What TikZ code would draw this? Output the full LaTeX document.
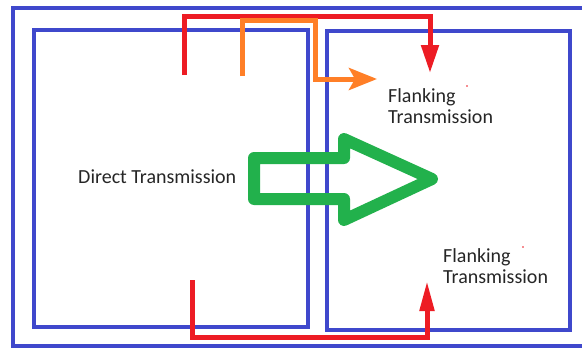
\documentclass[tikz,border=0pt]{standalone}
\usepackage{fontspec}
\setmainfont{Carlito}
\usetikzlibrary{positioning,arrows.meta}
\definecolor{wallblue}{HTML}{3F48CC}
\definecolor{pathred}{HTML}{ED1C24}
\definecolor{pathorange}{HTML}{FF7F27}
\definecolor{arrowgreen}{HTML}{22B14C}

\begin{document}
\begin{tikzpicture}[x=1pt,y=-1pt,
  wall/.style={draw=wallblue,line width=4pt},
  redpath/.style={draw=pathred,line width=5pt},
  orangepath/.style={draw=pathorange,line width=5pt},
  label/.style={font=\fontsize{20}{21.5}\selectfont,text=black!85,inner sep=0pt,align=left}]
  \useasboundingbox (0,0) rectangle (582,348);
  \fill[white] (0,0) rectangle (582,348);
  % building outline and the two rooms
  \begin{scope}
    \clip (0,0) rectangle (582,348);
    \draw[wall] (13,8) rectangle (600,346);
  \end{scope}
  \draw[wall] (34,29.5) rectangle (308,327);
  \draw[wall] (327,31) rectangle (570,330);
  % labels
  \node[label,anchor=base west] (direct) at (78,183) {Direct Transmission};
  \node[label,anchor=north west] (flankA) at (388,88) {Flanking\\Transmission};
  \node[label,anchor=north west] (flankB) at (443,248) {Flanking\\Transmission};
  % flanking paths
  \coordinate (redTopS) at (184,75);
  \coordinate (redTopE) at (430,73);
  \draw[redpath,-{Triangle[length=28pt,width=17pt]}] (redTopS) -- (184,16) -| (redTopE);
  \coordinate (orangeS) at (242,76);
  \coordinate (orangeE) at (377,79);
  \draw[orangepath,-{Stealth[length=28pt,width=22pt,inset=6pt]}] (orangeS) -- (242,20.5) -| (315.5,79) -- (orangeE);
  \coordinate (redBotS) at (192.5,280);
  \coordinate (redBotE) at (427,281);
  \draw[redpath,-{Triangle[length=30pt,width=14pt]}] (redBotS) -- (192.5,337.5) -| (redBotE);
  % direct path
  \draw[arrowgreen,line width=12pt,line join=round]
    (254,158) -- (344,158) -- (344,139) -- (432,179) -- (344,220) -- (344,199) -- (254,199) -- cycle;
  % stray dots
  \fill[pathred] (467,86) circle (0.8);
  \fill[pathred] (523,247) circle (0.8);
\end{tikzpicture}
\end{document}
